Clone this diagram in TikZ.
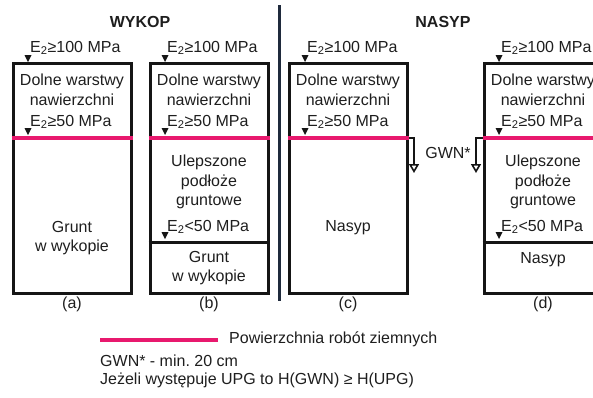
\documentclass[tikz,border=0pt]{standalone}
\usepackage{fontspec}
\setmainfont{Liberation Sans}
\usepackage{xcolor}
\usepackage{tikz}
\usetikzlibrary{arrows.meta, positioning}
\definecolor{ink}{HTML}{1E1E1E}
\definecolor{wallc}{HTML}{151515}
\definecolor{divc}{HTML}{1F2A3C}
\definecolor{surfc}{HTML}{E8196E}
\frenchspacing

\begin{document}
\begin{tikzpicture}[
  x=1pt, y=-1pt,
  >=Stealth,
  every node/.style={font=\fontsize{16}{19.5}\selectfont, text=ink, inner sep=0pt},
  layer/.style={draw=wallc, line width=3pt, minimum width=118pt, minimum height=230pt},
  lbl/.style={anchor=west},
  txt/.style={align=center},
  title/.style={font=\fontsize{16}{19.5}\selectfont\bfseries},
  wall/.style={draw=wallc, line width=3pt},
  surf/.style={draw=surfc, line width=4pt},
  gwn/.style={draw=wallc, line width=2pt, -{Triangle[open, length=9pt, width=10pt, line width=1.6pt]}},
  lvl/.pic={\fill[wallc] (-3.5,-7) -- (3.5,-7) -- (0,0) -- cycle;}
]
  \useasboundingbox (0,0) rectangle (593,397);

  % titles and divider
  \node[title] (wykop) at (140,22) {WYKOP};
  \node[title] (nasyp) at (443,22) {NASYP};
  \coordinate (divtop) at (279,5);
  \coordinate (divbot) at (279,301);
  \draw[draw=divc, line width=3pt] (divtop) -- (divbot);

  % boxes
  \node[layer] (boxa) at (72,178)  {};
  \node[layer] (boxb) at (209,178) {};
  \node[layer] (boxc) at (348,178) {};
  \node[layer] (boxd) at (543,178) {};

  \coordinate (pk) at (0,138);
  \coordinate (dv) at (0,242);

  % surface of earthworks
  \draw[surf] (boxa.west |- pk) -- (boxa.east |- pk);
  \draw[surf] (boxb.west |- pk) -- (boxb.east |- pk);
  \draw[surf] (boxc.west |- pk) -- (boxc.east |- pk);
  \draw[surf] (boxd.west |- pk) -- (boxd.east |- pk);

  % inner layer borders
  \draw[wall] (boxb.west |- dv) -- (boxb.east |- dv);
  \draw[wall] (boxd.west |- dv) -- (boxd.east |- dv);

  % (a)
  \pic at (28,62) {lvl};
  \node[lbl] (a100) at (30,48) {E\textsubscript{2}≥100 MPa};
  \node[txt] (adol) at (72,90) {Dolne warstwy\\nawierzchni};
  \pic at (28,135) {lvl};
  \node[lbl] (a50) at (30,122) {E\textsubscript{2}≥50 MPa};
  \node[txt] (agr) at (72,238) {Grunt\\w wykopie};
  \node (alab) at (72,304) {(a)};

  % (b)
  \pic at (165,62) {lvl};
  \node[lbl] (b100) at (167,48) {E\textsubscript{2}≥100 MPa};
  \node[txt] (bdol) at (209,90) {Dolne warstwy\\nawierzchni};
  \pic at (165,135) {lvl};
  \node[lbl] (b50) at (167,122) {E\textsubscript{2}≥50 MPa};
  \node[txt] (bupg) at (209,182) {Ulepszone\\podłoże\\gruntowe};
  \pic at (165,239) {lvl};
  \node[lbl] (blt) at (167,227) {E\textsubscript{2}<50 MPa};
  \node[txt] (bgr) at (209,268) {Grunt\\w wykopie};
  \node (blab) at (209,304) {(b)};

  % (c)
  \pic at (305,62) {lvl};
  \node[lbl] (c100) at (307,48) {E\textsubscript{2}≥100 MPa};
  \node[txt] (cdol) at (348,90) {Dolne warstwy\\nawierzchni};
  \pic at (305,135) {lvl};
  \node[lbl] (c50) at (307,122) {E\textsubscript{2}≥50 MPa};
  \node[txt] (cns) at (348,228) {Nasyp};
  \node (clab) at (348,304) {(c)};

  % (d)
  \pic at (499,62) {lvl};
  \node[lbl] (d100) at (501,48) {E\textsubscript{2}≥100 MPa};
  \node[txt] (ddol) at (543,90) {Dolne warstwy\\nawierzchni};
  \pic at (499,135) {lvl};
  \node[lbl] (d50) at (501,122) {E\textsubscript{2}≥50 MPa};
  \node[txt] (dupg) at (543,182) {Ulepszone\\podłoże\\gruntowe};
  \pic at (499,239) {lvl};
  \node[lbl] (dlt) at (501,227) {E\textsubscript{2}<50 MPa};
  \node[txt] (dns) at (543,260) {Nasyp};
  \node (dlab) at (543,304) {(d)};

  % GWN
  \node (gwnt) at (448,153) {GWN*};
  \coordinate (gc0) at (414,138);
  \coordinate (gc1) at (414,173);
  \coordinate (gd0) at (476,138);
  \coordinate (gd1) at (476,173);
  \draw[gwn] (boxc.east |- pk) -- (gc0) -- (gc1);
  \draw[gwn] (boxd.west |- pk) -- (gd0) -- (gd1);

  % legend
  \coordinate (lg0) at (100,340);
  \coordinate (lg1) at (218,340);
  \draw[surf] (lg0) -- (lg1);
  \node[lbl] (lgt) at (229,339) {Powierzchnia robót ziemnych};
  \node[lbl] (note1) at (100,361) {GWN* - min. 20 cm};
  \node[lbl] (note2) at (100,380) {Jeżeli występuje UPG to H(GWN) ≥ H(UPG)};
\end{tikzpicture}
\end{document}
